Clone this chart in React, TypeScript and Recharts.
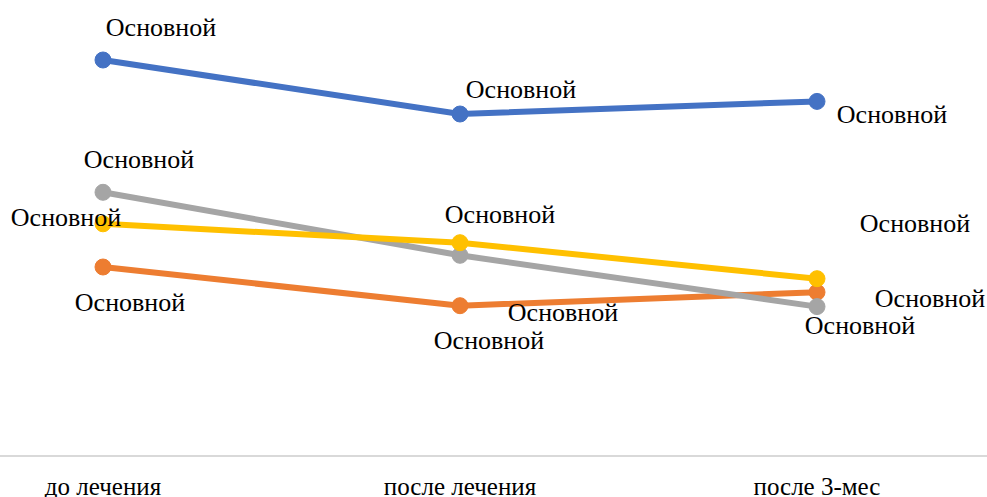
import { LineChart, Line, XAxis, YAxis } from "recharts";

const CATEGORIES = ["до лечения", "после лечения", "после 3-мес"];

const SERIES_NAME = "Основной";

const BLUE_VALUES = [44.0, 38.0, 39.4];
const ORANGE_VALUES = [21.0, 16.7, 18.2];
const GRAY_VALUES = [29.3, 22.3, 16.6];
const YELLOW_VALUES = [25.8, 23.7, 19.7];

const FONT = "'Times New Roman', 'Liberation Serif', serif";

// where each data label sits relative to its point (px, label centre)
const LABEL_OFFSETS: Record<string, [number, number][]> = {
  blue: [[58, -33], [61, -25], [75, 13]],
  orange: [[27, 35], [29, 34], [43, 33]],
  gray: [[36, -33], [103, 57], [113, -9]],
  yellow: [[-37, -7], [40, -29], [98, -56]],
};

const SERIES = [
  { key: "blue", color: "#4472C4", values: BLUE_VALUES },
  { key: "orange", color: "#ED7D31", values: ORANGE_VALUES },
  { key: "gray", color: "#A5A5A5", values: GRAY_VALUES },
  { key: "yellow", color: "#FFC000", values: YELLOW_VALUES },
];

const data = CATEGORIES.map((cat, i) => {
  const row: Record<string, string | number> = { cat };
  SERIES.forEach((s) => {
    row[s.key] = s.values[i];
  });
  return row;
});

function makeLabel(seriesKey: string) {
  return (props: any) => {
    const { x, y, index } = props;
    const off = LABEL_OFFSETS[seriesKey][index] ?? [0, 0];
    return (
      <text
        key={`${seriesKey}-${index}`}
        x={x + off[0]}
        y={y + off[1] + 9}
        textAnchor="middle"
        fontFamily={FONT}
        fontSize={26}
        fill="#000"
      >
        {SERIES_NAME}
      </text>
    );
  };
}

// category names sit just under the axis line, near the chart's bottom edge
function CategoryTick(props: any) {
  const { x, payload } = props;
  return (
    <text
      x={x}
      y={495}
      textAnchor="middle"
      fontFamily={FONT}
      fontSize={25}
      fill="#000"
    >
      {payload.value}
    </text>
  );
}

export default function App() {
  return (
    <div style={{ position: "absolute", left: 0, top: 0, background: "#fff" }}>
      <LineChart
        width={987}
        height={497}
        data={data}
        margin={{ top: 6, right: 0, bottom: 0, left: 0 }}
      >
        <XAxis
          dataKey="cat"
          height={41}
          padding={{ left: 103, right: 170 }}
          axisLine={{ stroke: "#d9d9d9", strokeWidth: 2 }}
          tickLine={false}
          tick={<CategoryTick />}
          interval={0}
        />
        <YAxis hide domain={[0, 50]} />
        {SERIES.map((s) => (
          <Line
            key={s.key}
            dataKey={s.key}
            name={SERIES_NAME}
            stroke={s.color}
            strokeWidth={6}
            dot={{ r: 8, fill: s.color, stroke: s.color, strokeWidth: 1 }}
            activeDot={false}
            label={makeLabel(s.key)}
            isAnimationActive={false}
          />
        ))}
      </LineChart>
    </div>
  );
}
